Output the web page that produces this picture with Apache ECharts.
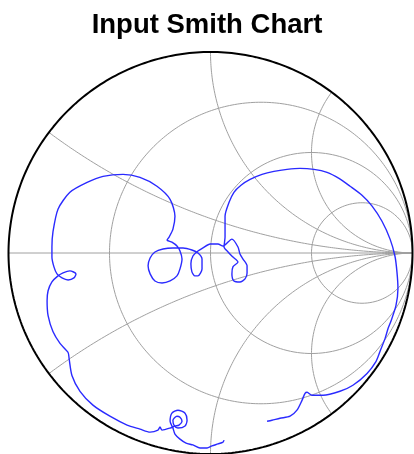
<!DOCTYPE html>
<html><head><meta charset="utf-8">
<script src="https://cdn.jsdelivr.net/npm/echarts@6/dist/echarts.min.js"></script>
<style>html,body{margin:0;padding:0;background:#fff}#c{width:414px;height:454px}</style>
</head><body><div id="c"></div>
<script>
const chartTitle = 'Input Smith Chart';
// normalized resistance circles and reactance arcs of the grid
const resistanceValues = [1/3, 1, 3];
const reactanceValues = [1/3, 1, 2];
// reflection coefficient (Gamma), in sweep order
const gammaRe = [0.067,0.062,0.037,0.007,-0.017,-0.052,-0.087,-0.121,-0.151,-0.176,
  -0.186,-0.200,-0.191,-0.161,-0.126,-0.116,-0.126,-0.161,-0.181,-0.186,
  -0.166,-0.151,-0.141,-0.156,-0.176,-0.200,-0.240,-0.250,-0.260,-0.299,
  -0.349,-0.413,-0.498,-0.582,-0.646,-0.686,-0.700,-0.705,-0.745,-0.780,
  -0.804,-0.809,-0.804,-0.785,-0.755,-0.730,-0.696,-0.666,-0.676,-0.705,
  -0.735,-0.760,-0.775,-0.785,-0.785,-0.780,-0.755,-0.696,-0.611,-0.532,
  -0.433,-0.349,-0.265,-0.200,-0.176,-0.186,-0.205,-0.215,-0.191,-0.166,
  -0.151,-0.141,-0.151,-0.166,-0.200,-0.240,-0.275,-0.299,-0.309,-0.299,
  -0.275,-0.235,-0.186,-0.136,-0.092,-0.062,-0.042,-0.042,-0.062,-0.077,
  -0.092,-0.097,-0.087,-0.062,
  -0.037,-0.002,0.037,0.062,0.106,0.136,0.146,0.161,0.181,0.181,0.171,0.146,0.116,0.106,0.111,0.136,0.111,0.087,0.067,0.072,0.072,
  0.092,0.116,0.151,0.196,0.255,0.314,0.379,0.443,0.512,0.577,0.636,0.691,0.750,0.800,0.849,0.889,0.913,0.923,0.928,0.918,
  0.894,0.879,0.864,0.839,0.819,0.775,0.705,0.641,0.557,0.502,0.478,0.468,0.453,0.428,0.394,0.344,0.304,0.280];
const gammaIm = [-0.931,-0.941,-0.950,-0.960,-0.970,-0.970,-0.955,-0.946,-0.926,-0.901,
  -0.871,-0.837,-0.797,-0.782,-0.797,-0.832,-0.861,-0.871,-0.856,-0.832,
  -0.812,-0.817,-0.837,-0.856,-0.861,-0.871,-0.881,-0.866,-0.881,-0.891,
  -0.876,-0.856,-0.812,-0.757,-0.688,-0.609,-0.525,-0.495,-0.450,-0.391,
  -0.312,-0.238,-0.188,-0.144,-0.114,-0.099,-0.089,-0.104,-0.124,-0.134,
  -0.124,-0.104,-0.069,-0.020,0.030,0.104,0.218,0.302,0.351,0.381,
  0.391,0.376,0.332,0.267,0.183,0.119,0.079,0.064,0.054,0.035,
  0.010,-0.030,-0.079,-0.114,-0.139,-0.149,-0.139,-0.104,-0.064,-0.025,
  0.005,0.020,0.025,0.025,0.015,0.000,-0.030,-0.079,-0.114,-0.114,
  -0.094,-0.054,-0.015,0.010,
  0.025,0.045,0.045,0.035,0.069,0.030,-0.005,-0.030,-0.064,-0.099,-0.129,-0.144,-0.139,-0.104,-0.069,-0.045,-0.020,0.005,0.030,0.079,0.183,
  0.252,0.302,0.337,0.366,0.391,0.406,0.416,0.421,0.416,0.401,0.371,0.332,0.287,0.233,0.158,0.069,-0.015,-0.094,-0.178,-0.262,
  -0.337,-0.376,-0.426,-0.490,-0.540,-0.599,-0.658,-0.688,-0.708,-0.708,-0.693,-0.698,-0.733,-0.782,-0.812,-0.822,-0.832,-0.837];

function rCircle(r) {
  const cx = r / (1 + r), rad = 1 / (1 + r), pts = [];
  for (let i = 0; i <= 360; i++) {
    const t = i * Math.PI / 180;
    pts.push([cx + rad * Math.cos(t), rad * Math.sin(t)]);
  }
  return pts;
}
function xArc(x) {
  const pts = [];
  for (let i = 0; i < 400; i++) {
    const r = Math.tan(i / 400 * Math.PI / 2);
    const d = (r + 1) * (r + 1) + x * x;
    pts.push([(r * r - 1 + x * x) / d, 2 * x / d]);
  }
  pts.push([1, 0]);
  return pts;
}
const gray = '#a0a0a0';
const series = [];
function addLine(data, color, width, z, smooth) {
  series.push({type: 'line', data, showSymbol: false, symbol: 'none', clip: false, silent: true,
    animation: false, z, smooth: smooth || false, lineStyle: {color, width}});
}
addLine([[-1, 0], [1, 0]], gray, 1, 1);
resistanceValues.forEach(r => addLine(rCircle(r), gray, 1, 1));
reactanceValues.forEach(x => { addLine(xArc(x), gray, 1, 1); addLine(xArc(-x), gray, 1, 1); });
addLine(rCircle(0), '#000', 2, 2);
addLine(gammaRe.map((v, i) => [v, gammaIm[i]]), '#2a2aff', 1.4, 3, 0.25);

const chart = echarts.init(document.getElementById('c'), null, {renderer: 'canvas'});
chart.setOption({
  animation: false,
  backgroundColor: '#fff',
  title: {text: chartTitle, left: 'center', top: 6,
    textStyle: {fontSize: 27.5, fontWeight: 'bold', color: '#000', fontFamily: 'Liberation Sans, Arial, sans-serif'}},
  grid: {left: 8.5, top: 52, width: 404, height: 404, containLabel: false},
  xAxis: {type: 'value', min: -1, max: 1, show: false},
  yAxis: {type: 'value', min: -1, max: 1, show: false},
  series
});
</script></body></html>
